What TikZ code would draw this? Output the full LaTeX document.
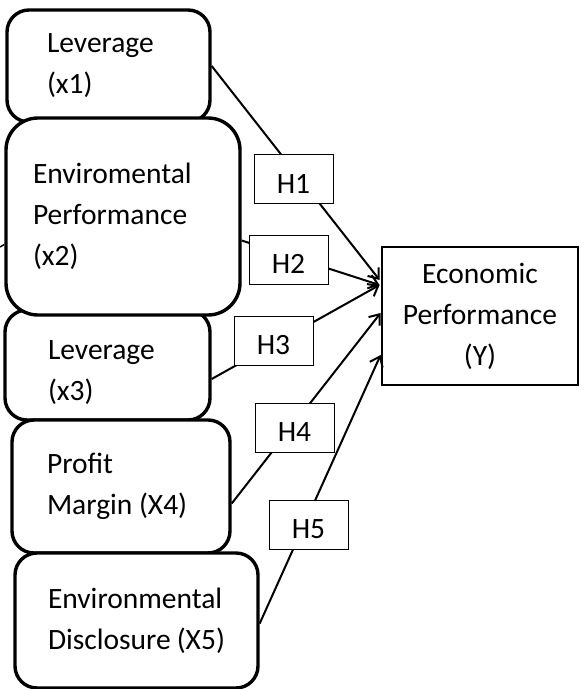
\documentclass[tikz,border=0pt]{standalone}
\usepackage{fontspec}
\setmainfont{Carlito}
\usetikzlibrary{arrows.meta}

\begin{document}
\begin{tikzpicture}[x=1pt,y=1pt,yscale=-1,xscale=1,
    varbox/.style={draw, line width=3.4pt, rounded corners=22pt, fill=white, align=flush left, inner ysep=0pt, font=\fontsize{29.5}{41}\selectfont},
    hypbox/.style={draw, line width=0.8pt, fill=white, minimum width=79pt, minimum height=49pt, inner sep=0pt, text height=28pt, font=\fontsize{29.5}{41}\selectfont},
    link/.style={line width=2pt, -{Straight Barb[length=9pt,width=14pt]}}]
    \useasboundingbox (0,0) rectangle (581,689);

    %Shape: Rounded Rect [x1]
    \node (x1) at (108.5,66) [varbox, text width=123pt, inner xsep=40pt, minimum height=112pt] {Leverage\\(x1)};
    %Shape: Rounded Rect [x3]
    \node (x3) at (107.5,365) [varbox, text width=119pt, inner xsep=43pt, minimum height=110pt] {\rule{0pt}{34pt}Leverage\\(x3)};
    %Shape: Rounded Rect [x4]
    \node (x4) at (121,486.5) [varbox, text width=148pt, inner xsep=35pt, minimum height=133pt] {Profit\\Margin (X4)};
    %Shape: Rounded Rect [x5]
    \node (x5) at (136.5,620.5) [varbox, text width=177pt, inner xsep=33pt, minimum height=135pt] {Environmental\\Disclosure (X5)};
    %Shape: Rounded Rect [x2]
    \node (x2) at (123,216.5) [varbox, rounded corners=32pt, text width=180pt, inner xsep=27pt, minimum height=197pt] {Enviromental\\Performance\\(x2)};
    %Shape: Rectangle [Y]
    \node (y) at (480,316) [draw, line width=2.8pt, align=center, minimum width=196pt, minimum height=138pt, inner sep=0pt, font=\fontsize{29.5}{41}\selectfont] {Economic\\Performance\\(Y)};

    %Straight Lines [stub]
    \coordinate (stub) at (0,247);
    \draw [line width=1.4pt] (stub) -- ([yshift=28pt]x2.west);
    %Straight Lines [links]
    \draw [link] (x1.east) -- ([xshift=-1pt,yshift=-36pt]y.west);
    \draw [link] ([yshift=24pt]x2.east) -- ([xshift=-1pt,yshift=-31pt]y.west);
    \draw [link] ([yshift=14pt]x3.east) -- ([xshift=-1pt,yshift=-31pt]y.west);
    \draw [link] ([yshift=17pt]x4.east) -- ([yshift=-3pt]y.west);
    \draw [link] ([yshift=3pt]x5.east) -- ([yshift=39pt]y.west);

    % Text Node
    \node (h1) at (293.5,179) [hypbox] {H1};
    % Text Node
    \node (h2) at (288.5,259.5) [hypbox] {H2};
    % Text Node
    \node (h3) at (273.5,340.5) [hypbox] {H3};
    % Text Node
    \node (h4) at (294.5,427.5) [hypbox] {H4};
    % Text Node
    \node (h5) at (308.5,525) [hypbox] {H5};

\end{tikzpicture}
\end{document}
